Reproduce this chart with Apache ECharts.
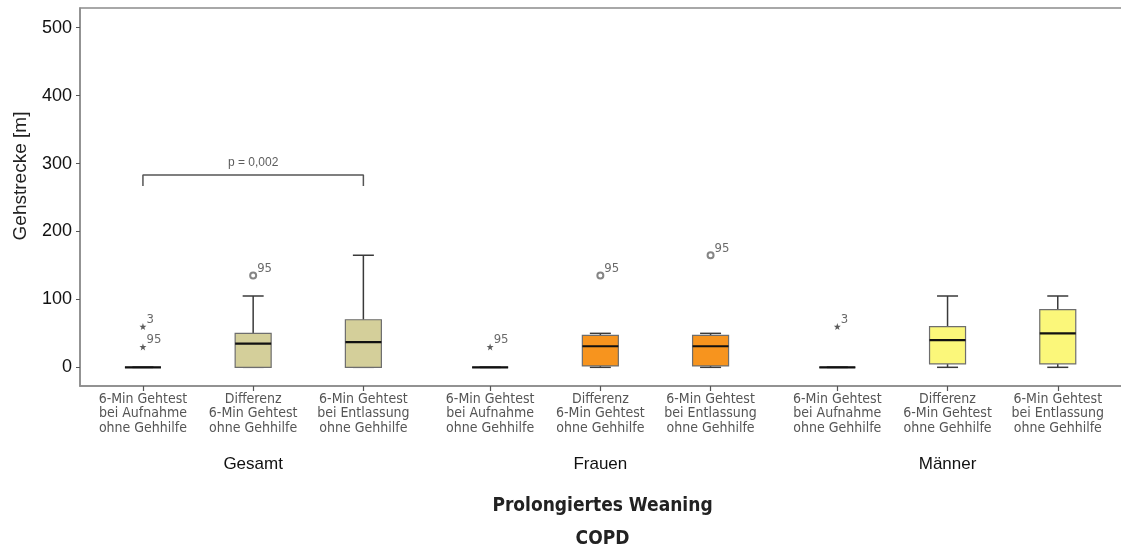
<!DOCTYPE html>
<html>
<head>
<meta charset="utf-8">
<script src="https://cdn.jsdelivr.net/npm/echarts@6/dist/echarts.min.js"></script>
<style>html,body{margin:0;padding:0;background:#fff;}#c{width:1121px;height:551px;}</style>
</head>
<body>
<div id="c"></div>
<script>
// ---- data ----
const groups = ['Gesamt', 'Frauen', 'Männer'];
const measures = [
  '6-Min Gehtest\nbei Aufnahme\nohne Gehhilfe',
  'Differenz\n6-Min Gehtest\nohne Gehhilfe',
  '6-Min Gehtest\nbei Entlassung\nohne Gehhilfe'
];
// [min, Q1, median, Q3, max] per measure
const gesamtStats  = [[0, 0, 0, 0, 0], [0, 0, 35, 50, 105], [0, 0, 37, 70, 165]];
const frauenStats  = [[0, 0, 0, 0, 0], [0, 2, 31, 47, 50],  [0, 2, 31, 47, 50]];
const maennerStats = [[0, 0, 0, 0, 0], [0, 5, 40, 60, 105], [0, 5, 50, 85, 105]];
// outliers: [groupIndex, measureIndex, value, case label, kind]
const outliers = [
  [0, 0, 60, '3', 'extreme'],
  [0, 0, 30, '95', 'extreme'],
  [0, 1, 135, '95', 'mild'],
  [1, 0, 30, '95', 'extreme'],
  [1, 1, 135, '95', 'mild'],
  [1, 2, 165, '95', 'mild'],
  [2, 0, 60, '3', 'extreme']
];
const yTicks = [0, 100, 200, 300, 400, 500];
const pText = 'p = 0,002';
const pLevel = 283;
const pTickEnd = 267;
const xTitle = 'Prolongiertes Weaning';
const xSubTitle = 'COPD';
const yTitle = 'Gehstrecke [m]';

// ---- layout/style ----
const GAP = 0.15;
const groupColors = ['#d4cf9a', '#f7941e', '#fbf77a'];
const allStats = [gesamtStats, frauenStats, maennerStats];
const pos = (g, m) => g * (3 + GAP) + m;
const tickPositions = [];
const tickLabels = {};
groups.forEach((g, gi) => measures.forEach((m, mi) => {
  const p = pos(gi, mi);
  tickPositions.push(p);
  tickLabels[p.toFixed(3)] = m;
}));
const groupPositions = groups.map((g, gi) => pos(gi, 1));
const groupLabelMap = {};
groups.forEach((g, gi) => { groupLabelMap[groupPositions[gi].toFixed(3)] = g; });

const BOX_HW = 18, CAP_HW = 10.5;
function renderBox(params, api) {
  const x = api.value(0);
  const pMin = api.coord([x, api.value(1)]);
  const pQ1 = api.coord([x, api.value(2)]);
  const pMed = api.coord([x, api.value(3)]);
  const pQ3 = api.coord([x, api.value(4)]);
  const pMax = api.coord([x, api.value(5)]);
  const cx = pMin[0];
  const color = api.visual('color');
  const wStyle = { stroke: '#3a3a3a', lineWidth: 1.5 };
  return {
    type: 'group',
    children: [
      { type: 'line', shape: { x1: cx, y1: pQ3[1], x2: cx, y2: pMax[1] }, style: wStyle },
      { type: 'line', shape: { x1: cx - CAP_HW, y1: pMax[1], x2: cx + CAP_HW, y2: pMax[1] }, style: wStyle },
      { type: 'line', shape: { x1: cx, y1: pQ1[1], x2: cx, y2: pMin[1] }, style: wStyle },
      { type: 'line', shape: { x1: cx - CAP_HW, y1: pMin[1], x2: cx + CAP_HW, y2: pMin[1] }, style: wStyle },
      { type: 'rect', shape: { x: cx - BOX_HW, y: pQ3[1], width: BOX_HW * 2, height: pQ1[1] - pQ3[1] },
        style: { fill: color, stroke: '#6e6e6e', lineWidth: 1.2 } },
      { type: 'line', shape: { x1: cx - BOX_HW, y1: pMed[1], x2: cx + BOX_HW, y2: pMed[1] },
        style: { stroke: '#111', lineWidth: 2.2 } }
    ]
  };
}

const STAR = 'path://M0,-10L2.35,-3.24L9.51,-3.09L3.8,1.24L5.88,8.09L0,4L-5.88,8.09L-3.8,1.24L-9.51,-3.09L-2.35,-3.24Z';

const boxSeries = groups.map((g, gi) => ({
  type: 'custom',
  name: g,
  xAxisIndex: 0,
  yAxisIndex: 0,
  itemStyle: { color: groupColors[gi] },
  renderItem: renderBox,
  encode: { x: 0, y: [1, 2, 3, 4, 5] },
  data: allStats[gi].map((s, mi) => [pos(gi, mi)].concat(s)),
  z: 2
}));

const outlierLabel = {
  show: true,
  position: 'right',
  distance: 0,
  offset: [0, -7],
  formatter: p => p.value[2],
  fontFamily: 'DejaVu Sans Condensed',
  fontSize: 13,
  color: '#444'
};
const mildSeries = {
  type: 'scatter',
  symbol: 'emptyCircle',
  symbolSize: 6,
  itemStyle: { color: '#666', borderColor: '#666', borderWidth: 1 },
  label: outlierLabel,
  data: outliers.filter(o => o[4] === 'mild').map(o => [pos(o[0], o[1]), o[2], o[3]]),
  z: 3
};
const extremeSeries = {
  type: 'scatter',
  symbol: STAR,
  symbolSize: 7,
  itemStyle: { color: '#333' },
  label: outlierLabel,
  data: outliers.filter(o => o[4] === 'extreme').map(o => [pos(o[0], o[1]), o[2], o[3]]),
  z: 3
};
const bracketSeries = {
  type: 'line',
  symbol: 'none',
  lineStyle: { color: '#555', width: 1.5 },
  data: [[pos(0, 0), pTickEnd], [pos(0, 0), pLevel], [pos(0, 2), pLevel], [pos(0, 2), pTickEnd]],
  z: 1
};
const pLabelSeries = {
  type: 'scatter',
  symbolSize: 0,
  data: [[pos(0, 1), pLevel]],
  label: { show: true, position: 'top', distance: 6, formatter: pText,
    fontFamily: 'Liberation Sans', fontSize: 12, color: '#333' },
  silent: true
};

const chart = echarts.init(document.getElementById('c'), null, { renderer: 'canvas' });
chart.setOption({
  animation: false,
  grid: { left: 80, top: 8, width: 1045, height: 378, outerBoundsMode: 'none', containLabel: false,
    show: true, borderColor: '#8c8c8c', borderWidth: 1.5, backgroundColor: 'transparent' },
  xAxis: [{
    type: 'value', min: -0.571, max: 8.91,
    splitLine: { show: false },
    axisLine: { show: true, onZero: false, lineStyle: { color: '#8c8c8c', width: 1.5 } },
    axisTick: { show: true, customValues: tickPositions, length: 5, lineStyle: { color: '#555', width: 1.2 } },
    axisLabel: {
      customValues: tickPositions,
      formatter: v => tickLabels[v.toFixed(3)] || '',
      margin: 6, fontFamily: 'DejaVu Sans Condensed', fontSize: 14, lineHeight: 14.5, color: '#555', align: 'center'
    },
    name: xTitle, nameLocation: 'middle', nameGap: 111,
    nameTextStyle: { fontFamily: 'DejaVu Sans Condensed', fontWeight: 'bold', fontSize: 19, color: '#222' }
  }, {
    type: 'value', min: -0.571, max: 8.91, position: 'bottom',
    splitLine: { show: false }, axisLine: { show: false }, axisTick: { show: false },
    axisLabel: {
      customValues: groupPositions,
      formatter: v => groupLabelMap[v.toFixed(3)] || '',
      margin: 70, fontFamily: 'Liberation Sans', fontSize: 17, color: '#111'
    },
    name: xSubTitle, nameLocation: 'middle', nameGap: 144,
    nameTextStyle: { fontFamily: 'DejaVu Sans Condensed', fontWeight: 'bold', fontSize: 19, color: '#222' }
  }],
  yAxis: {
    type: 'value', min: -27.5, max: 529,
    splitLine: { show: false },
    axisLine: { show: true, onZero: false, lineStyle: { color: '#8c8c8c', width: 1.5 } },
    axisTick: { show: true, customValues: yTicks, length: 4, lineStyle: { color: '#555' } },
    axisLabel: { customValues: yTicks, margin: 8, fontFamily: 'Liberation Sans', fontSize: 18, color: '#111' }
  },
  graphic: [{
    type: 'text', x: 21, y: 176, rotation: Math.PI / 2,
    style: { text: yTitle, fontFamily: 'Liberation Sans', fontSize: 19, fill: '#222', align: 'center', verticalAlign: 'middle' }
  }],
  series: boxSeries.concat([mildSeries, extremeSeries, bracketSeries, pLabelSeries])
});
</script>
</body>
</html>
